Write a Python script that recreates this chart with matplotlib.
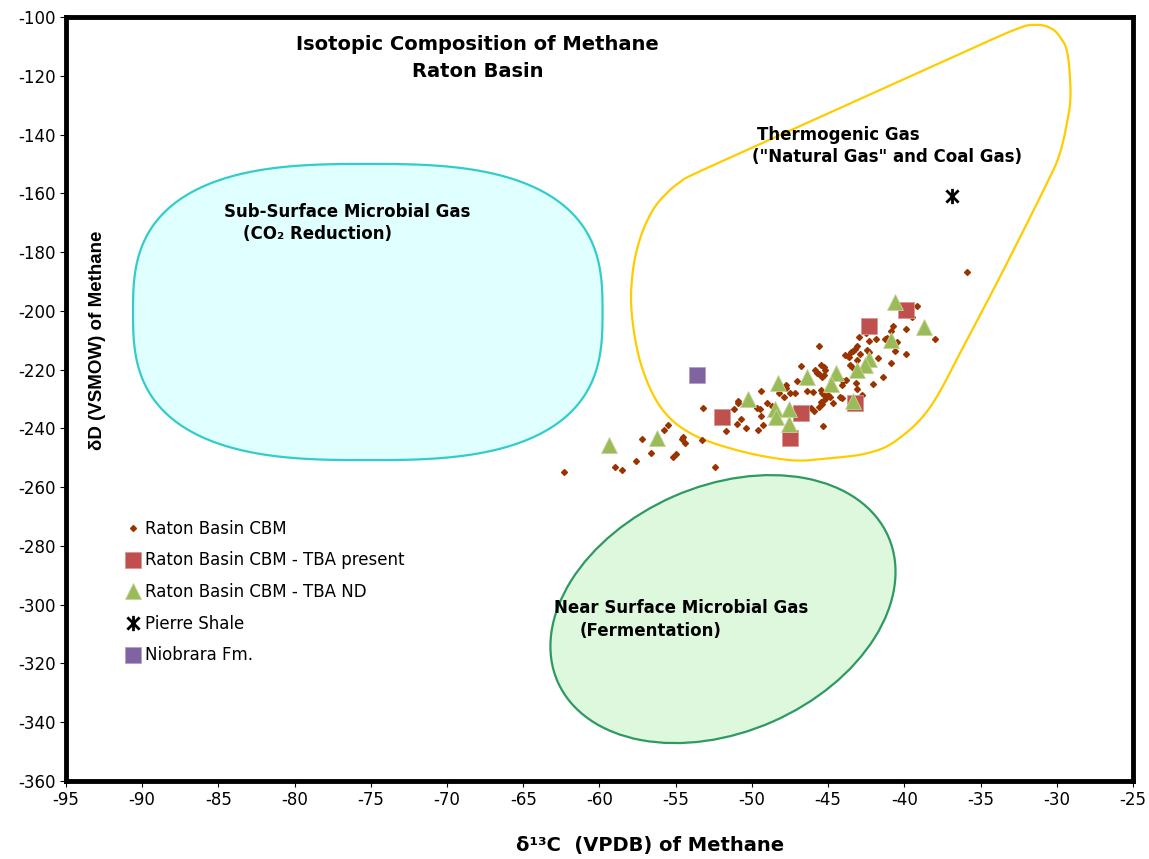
import numpy as np
import matplotlib
matplotlib.use("Agg")
import matplotlib.pyplot as plt
from matplotlib.path import Path
from matplotlib.patches import Ellipse
from matplotlib.transforms import Affine2D

plt.rcParams["font.family"] = ["DejaVu Sans"]
plt.rcParams["axes.unicode_minus"] = False

# Raton Basin CBM (small brown dots)
cbm_d13c = [
    -62.3, -59.0, -58.5, -57.6, -57.2, -56.6, -55.8, -55.5, -55.2, -55.0,
    -54.6, -54.5, -54.4, -53.3, -53.2, -52.4, -51.7, -51.2, -51.0, -50.9,
    -50.9, -50.7, -50.4, -49.7, -49.6, -49.5, -49.4, -49.4, -49.3, -49.0,
    -48.7, -48.2, -47.9, -47.75, -47.75, -47.5, -47.2, -47.05, -46.8, -46.4,
    -46.0, -46.1, -45.9, -45.85, -45.7, -45.6, -45.6, -45.5, -45.3, -45.2,
    -45.3, -45.4, -45.5, -45.4, -45.3, -45.0, -44.9, -45.2, -45.5, -45.4,
    -45.6, -44.7, -45.35, -44.2, -44.1, -44.1, -44.0, -43.8, -43.9, -43.7,
    -43.6, -43.55, -43.45, -43.5, -43.35, -43.25, -43.1, -43.2, -43.1, -43.1,
    -43.0, -42.9, -42.8, -42.5, -42.35, -42.45, -42.35, -42.05, -41.85, -41.75,
    -41.4, -41.25, -41.15, -40.9, -40.85, -40.75, -40.6, -40.5, -39.9, -39.9,
    -39.5, -39.2, -38.0, -35.9,
]
cbm_dd = [
    -254.8, -253.3, -254.3, -251.0, -243.6, -248.3, -240.6, -238.9, -249.7, -248.8,
    -243.7, -242.9, -245.1, -244.0, -233.1, -253.1, -240.8, -233.3, -238.6, -231.5,
    -230.7, -236.9, -240.0, -233.2, -240.6, -233.4, -227.2, -235.8, -238.8, -231.3,
    -232.4, -228.1, -229.2, -225.4, -226.2, -228.1, -228.1, -223.8, -218.9, -227.3,
    -227.5, -233.2, -234.0, -220.2, -221.1, -221.5, -212.0, -218.4, -219.0, -220.2,
    -221.9, -222.6, -227.0, -227.9, -228.7, -228.7, -229.2, -230.1, -230.9, -231.7,
    -232.6, -231.5, -239.2, -229.2, -229.8, -225.3, -223.8, -223.6, -215.0, -215.4,
    -215.8, -218.4, -219.0, -213.9, -213.6, -213.1, -212.0, -224.5, -226.7, -216.7,
    -208.8, -214.7, -228.7, -207.7, -210.3, -213.3, -213.9, -224.9, -209.7, -216.2,
    -222.4, -209.7, -209.4, -206.9, -217.9, -205.2, -213.7, -210.5, -206.2, -214.7,
    -202.0, -198.4, -209.7, -186.8,
]

# Raton Basin CBM - TBA present
tba_present_d13c = [-39.9, -42.3, -43.25, -46.8, -51.97, -47.5]
tba_present_dd = [-199.7, -205.1, -231.5, -234.8, -236.0, -243.4]

# Raton Basin CBM - TBA ND
tba_nd_d13c = [-40.6, -38.7, -40.9, -42.3, -42.6, -43.1, -44.5, -46.4, -48.3,
               -44.8, -50.25, -43.4, -48.5, -47.6, -48.4, -47.6, -56.2, -59.35]
tba_nd_dd = [-197.0, -205.6, -210.0, -216.5, -218.5, -220.2, -221.1, -222.4, -224.7,
             -225.0, -230.0, -230.7, -233.5, -233.4, -236.2, -238.6, -243.4, -245.7]

pierre_d13c = [-36.9]
pierre_dd = [-160.9]

niobrara_d13c = [-53.6]
niobrara_dd = [-222.0]

# CO2-reduction field: rounded box (center, half widths, squareness)
co2_center = (-75.2, -200.4)
co2_half = (15.4, 50.4)
co2_power = 2.8

# fermentation field: tilted ellipse, sizes in screen pixels
ferm_center = (-51.9, -301.5)
ferm_axes_px = (361, 246)
ferm_angle = 23.7
px_per_unit = (15.24, 2.938)

# thermogenic field outline (traced points)
thermo_field_x = [-57.8, -57.3, -56.5, -55.6, -54.7, -53.7, -48.5, -43.3, -38.1, -32.8,
                  -31.3, -30.4, -29.8, -29.3, -29.1, -29.3, -29.8, -30.65, -33.5, -35.9,
                  -38.3, -40.5, -42.4, -45.0, -47.5, -51.0, -54.05, -56.0, -57.3, -57.9]
thermo_field_y = [-186.1, -174.8, -165.7, -160.0, -156.1, -153.2, -141.0, -128.8, -116.7, -104.4,
                  -102.7, -103.8, -106.7, -112.4, -126.0, -135.1, -146.4, -156.6, -186.1, -209.9,
                  -232.7, -244.0, -248.4, -250.2, -250.8, -247.4, -241.6, -232.7, -217.8, -200.0]


def closed_curve(xs, ys, steps=24):
    # closed Catmull-Rom through the traced outline points
    t = np.linspace(0, 1, steps, endpoint=False)[None, :]
    out = []
    for c in (np.asarray(xs, float), np.asarray(ys, float)):
        c0, c1, c2, c3 = np.roll(c, 1), c, np.roll(c, -1), np.roll(c, -2)
        c0, c1, c2, c3 = (a[:, None] for a in (c0, c1, c2, c3))
        seg = 0.5 * (2 * c1 + (c2 - c0) * t + (2 * c0 - 5 * c1 + 4 * c2 - c3) * t ** 2
                     + (3 * c1 - c0 - 3 * c2 + c3) * t ** 3)
        seg = seg.ravel()
        out.append(np.append(seg, seg[0]))
    return out


def rounded_box(center, half, power, n=400):
    th = np.linspace(0, 2 * np.pi, n)
    c, s = np.cos(th), np.sin(th)
    x = center[0] + half[0] * np.sign(c) * np.abs(c) ** (2 / power)
    y = center[1] + half[1] * np.sign(s) * np.abs(s) ** (2 / power)
    return x, y


star_marker = Path(
    [(-1, -1), (1, 1), (-1, 1), (1, -1), (0, -1.25), (0, 1.25)],
    [Path.MOVETO, Path.LINETO, Path.MOVETO, Path.LINETO, Path.MOVETO, Path.LINETO],
)

fig = plt.figure(figsize=(11.49, 8.59), dpi=100)
ax = fig.add_axes([0.0574, 0.0908, 0.9287, 0.8894])

fx, fy = rounded_box(co2_center, co2_half, co2_power)
ax.fill(fx, fy, facecolor="#E0FFFF", edgecolor="#33CCCC", linewidth=1.6, zorder=1)

ferm = Ellipse((0, 0), ferm_axes_px[0], ferm_axes_px[1], angle=ferm_angle,
               facecolor="#DDF8DD", edgecolor="#2E9960", linewidth=1.6, zorder=1,
               transform=Affine2D().scale(1 / px_per_unit[0], 1 / px_per_unit[1])
               .translate(*ferm_center) + ax.transData)
ax.add_patch(ferm)

fx, fy = closed_curve(thermo_field_x, thermo_field_y)
ax.plot(fx, fy, color="#FFCC00", linewidth=1.6, zorder=1)

ax.plot(cbm_d13c, cbm_dd, linestyle="none", marker="D", markersize=3.0,
        color="#993300", label="Raton Basin CBM", zorder=3)
ax.plot(tba_present_d13c, tba_present_dd, linestyle="none", marker="s", markersize=11,
        color="#C0504D", markeredgecolor="#D99594", markeredgewidth=0.6,
        label="Raton Basin CBM - TBA present", zorder=4)
ax.plot(tba_nd_d13c, tba_nd_dd, linestyle="none", marker="^", markersize=12,
        color="#9BBB59", markeredgecolor="#C3D69B", markeredgewidth=0.6,
        label="Raton Basin CBM - TBA ND", zorder=5)
ax.plot(pierre_d13c, pierre_dd, linestyle="none", marker=star_marker, markersize=11,
        color="black", markeredgewidth=2, label="Pierre Shale", zorder=5)
ax.plot(niobrara_d13c, niobrara_dd, linestyle="none", marker="s", markersize=11,
        color="#8064A2", markeredgecolor="#B2A1C7", markeredgewidth=0.6,
        label="Niobrara Fm.", zorder=4)

ax.set_xlim(-95, -25)
ax.set_ylim(-360, -100)
ax.set_xticks(np.arange(-95, -24, 5))
ax.set_yticks(np.arange(-360, -99, 20))
ax.tick_params(direction="out", length=4, width=0.8, labelsize=12, colors="black")
for side in ax.spines.values():
    side.set_linewidth(3.5)
    side.set_color("black")

ax.set_xlabel("\u03b4\u00b9\u00b3C  (VPDB) of Methane", fontsize=14, fontweight="bold",
              labelpad=19, x=0.547)
ax.text(0.03, 0.577, "\u03b4D (VSMOW) of Methane", transform=ax.transAxes, rotation=90,
        ha="center", va="center", fontsize=13.5, fontweight="bold",
        family=["Liberation Sans", "DejaVu Sans"])

ax.text(-68.0, -109.5, "Isotopic Composition of Methane", ha="center", va="center",
        fontsize=14, fontweight="bold")
ax.text(-68.0, -118.7, "Raton Basin", ha="center", va="center", fontsize=14, fontweight="bold")

ax.text(-84.6, -166.4, "Sub-Surface Microbial Gas", ha="left", va="center",
        fontsize=12, fontweight="bold")
ax.text(-83.4, -173.9, "(CO\u2082 Reduction)", ha="left", va="center",
        fontsize=12, fontweight="bold")
ax.text(-49.7, -140.2, "Thermogenic Gas", ha="left", va="center", fontsize=12, fontweight="bold")
ax.text(-50.0, -147.7, '("Natural Gas" and Coal Gas)', ha="left", va="center",
        fontsize=12, fontweight="bold")
ax.text(-63.0, -301.2, "Near Surface Microbial Gas", ha="left", va="center",
        fontsize=12, fontweight="bold")
ax.text(-61.3, -309.0, "(Fermentation)", ha="left", va="center", fontsize=12, fontweight="bold")

ax.legend(loc="upper left", bbox_to_anchor=(0.056, 0.342), frameon=False, fontsize=12,
          handlelength=0.9, handletextpad=0.25, labelspacing=0.82, borderpad=0,
          borderaxespad=0)

fig.savefig("out.png", dpi=100)
